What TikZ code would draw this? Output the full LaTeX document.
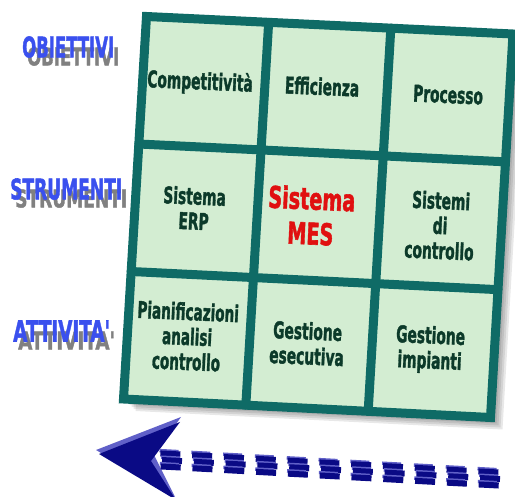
\documentclass[tikz,border=0pt]{standalone}
\usepackage{fontspec}
\setmainfont{DejaVu Sans}
\newfontfamily\heavy{DejaVu Sans}[UprightFont={* Bold}, UprightFeatures={FakeBold=2}]
\usepackage{graphicx}
\usetikzlibrary{calc}
\definecolor{framec}{HTML}{0F6B66}
\definecolor{cellbg}{HTML}{D3EDD2}
\definecolor{celltxt}{HTML}{0C3A2A}
\definecolor{mesred}{HTML}{E01010}
\definecolor{lblblue}{HTML}{3A50EE}
\definecolor{navy}{HTML}{0A0A85}
\definecolor{lightnavy}{HTML}{6060C8}
\newcommand{\celltx}[2][0.6]{\rotatebox{-2.5}{\scalebox{#1}[1]{\begin{tabular}{@{}c@{}}#2\end{tabular}}}}
\newcommand{\shlabel}[2]{\makebox[0pt][l]{\hspace{5pt}\raisebox{-8pt}{\color{black!50}\resizebox{#1}{18pt}{#2}}}\resizebox{#1}{21pt}{#2}}
\begin{document}
\begin{tikzpicture}[x=1pt,y=-1pt,
  celltext/.style={inner sep=0pt, text=celltxt, font=\heavy\fontsize{23}{25}\selectfont},
  mestext/.style={inner sep=0pt, text=mesred, font=\heavy\fontsize{30}{35}\selectfont},
  lbl/.style={inner sep=0pt, text=lblblue, font=\heavy},
  gridline/.style={draw=framec, line width=9pt, line cap=round}]
\useasboundingbox (0,0) rectangle (515,497);
% corners (centre line of the frame)
\coordinate (TL) at (146.5,16.5);
\coordinate (TR) at (513,34);
\coordinate (BR) at (490.5,417.5);
\coordinate (BL) at (123.5,399);
\foreach \i in {0,1,2,3} {
  \foreach \j in {0,1,2,3} {
    \coordinate (p\i\j) at ($ ($(TL)!\i/3!(TR)$)!\j/3!($(BL)!\i/3!(BR)$) $);
  }
}
% shadow
\foreach \s in {4,6,8,10,12} {
  \fill[black, opacity=0.09] ([shift={(\s,\s)}]TL) -- ([shift={(\s,\s)}]TR) -- ([shift={(\s,\s)}]BR) -- ([shift={(\s,\s)}]BL) -- cycle;
}
% cells
\fill[cellbg] (TL) -- (TR) -- (BR) -- (BL) -- cycle;
\draw[gridline] (p10) -- (p13);
\draw[gridline] (p20) -- (p23);
\draw[gridline] (p01) -- (p31);
\draw[gridline] (p02) -- (p32);
\draw[draw=framec, line width=9pt, line join=miter] (TL) -- (TR) -- (BR) -- (BL) -- cycle;
% cell texts
\node[celltext] (competitivita) at (200,84) {\celltx{Competitività}};
\node[celltext] (efficienza) at (322,90) {\celltx{Efficienza}};
\node[celltext] (processo) at (448,98) {\celltx{Processo}};
\node[celltext] (erp) at (194,212) {\celltx{Sistema\\ERP}};
\node[mestext] (mes) at (311,220) {\celltx[0.64]{Sistema\\MES}};
\node[celltext] (controllo) at (440,229) {\celltx{Sistemi\\di\\controllo}};
\node[celltext] (pianif) at (187,340) {\celltx[0.59]{Pianificazioni\\analisi\\controllo}};
\node[celltext] (esecutiva) at (307,347) {\celltx{Gestione\\esecutiva}};
\node[celltext] (impianti) at (430,351) {\celltx{Gestione\\impianti}};
% left labels (with their shadow)
\node[lbl, anchor=west] (ob) at (22,51) {\shlabel{92pt}{OBIETTIVI}};
\node[lbl, anchor=west] (st) at (10,193) {\shlabel{112pt}{STRUMENTI}};
\node[lbl, anchor=west] (at) at (13,335) {\shlabel{97pt}{ATTIVITA'}};
% arrow head
\fill[lightnavy] (96,450) -- (181,417) -- (154,455) -- (175,497) -- cycle;
\fill[navy] (99,454) -- (180,422) -- (151,461) -- (176,500) -- cycle;
% dashed tail
\foreach \k in {0,...,10} {
  \pgfmathsetmacro\cx{171+31.8*\k}
  \pgfmathsetmacro\cy{461+1.8*\k}
  \begin{scope}[shift={(\cx,\cy)}, rotate=-3]
    \foreach \dy/\dx in {-7/-1, -0.5/1, 6/0} {
      \fill[lightnavy] (\dx-11,\dy-4.5) rectangle (\dx+8,\dy-1);
      \fill[navy] (\dx-10,\dy-3) rectangle (\dx+10,\dy+3);
    }
  \end{scope}
}
\end{tikzpicture}
\end{document}
